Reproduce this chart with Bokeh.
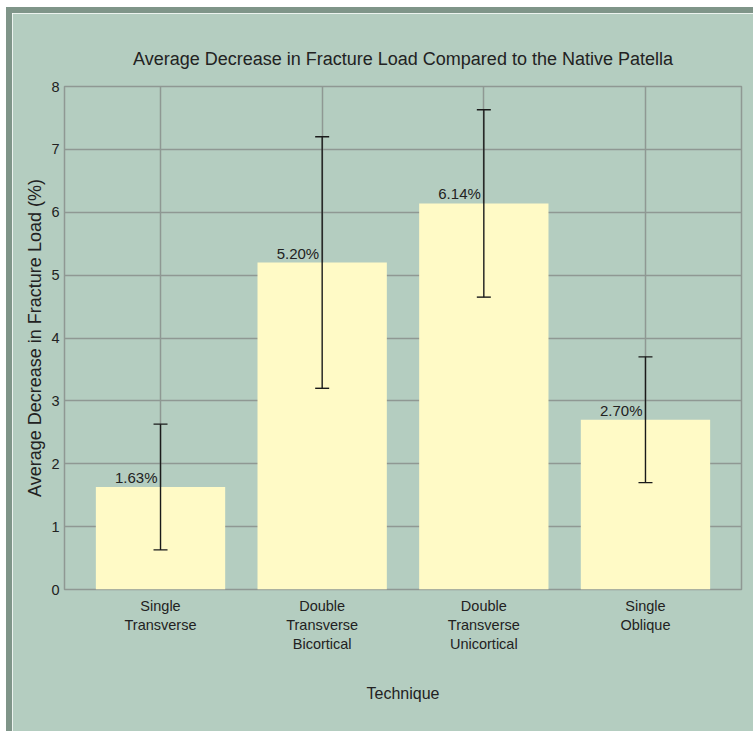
from bokeh.plotting import figure
from bokeh.models import ColumnDataSource, Whisker, LabelSet, FixedTicker, TeeHead
from bokeh.core.properties import value
from bokeh.embed import file_html
from bokeh.resources import INLINE

categories = ["Single\nTransverse", "Double\nTransverse\nBicortical",
              "Double\nTransverse\nUnicortical", "Single\nOblique"]
values = [1.63, 5.20, 6.14, 2.70]
err_lower = [0.63, 3.20, 4.65, 1.70]
err_upper = [2.63, 7.20, 7.63, 3.70]
value_labels = ["1.63%", "5.20%", "6.14%", "2.70%"]
y_ticks = [0, 1, 2, 3, 4, 5, 6, 7, 8]

BG = "#b4cdc0"
BAR = "#fffac6"
GRID = "#8f9893"
EDGE = "#7f9589"
FONT = "Liberation Sans"
TXT = "#222222"

xs = list(range(1, len(categories) + 1))
src = ColumnDataSource(dict(x=xs, value=values, lower=err_lower, upper=err_upper, label=value_labels))

p = figure(width=741, height=718, x_range=(0.406, 4.594), y_range=(0, 8),
           output_backend="svg", toolbar_location=None,
           min_border_left=52, min_border_right=12, min_border_top=73, min_border_bottom=142,
           background_fill_color=BG, border_fill_color=BG,
           title="Average Decrease in Fracture Load Compared to the Native Patella")
p.margin = (13, 0, 0, 12)
p.styles = {"box-shadow": f"-6px 0px 0px 0px {EDGE}, 0px -6px 0px 0px {EDGE}, -6px -6px 0px 0px {EDGE}"}

p.title.align = "center"
p.title.text_font = FONT
p.title.text_font_size = "18px"
p.title.text_font_style = "normal"
p.title.text_color = TXT
p.title.standoff = 35

p.vbar(x="x", top="value", width=0.8, source=src, fill_color=BAR, line_color=None)

w = Whisker(base="x", upper="upper", lower="lower", source=src, line_color="#1a1a1a", line_width=1.4,
            level="overlay",
            upper_head=TeeHead(size=14, line_color="#1a1a1a", line_width=1.4),
            lower_head=TeeHead(size=14, line_color="#1a1a1a", line_width=1.4))
p.add_layout(w)

labels = LabelSet(x="x", y="value", text="label", source=src, x_offset=-3, y_offset=1,
                  text_align="right", text_baseline="bottom", text_font=value(FONT),
                  text_font_size=value("15px"), text_color=TXT, level="overlay")
p.add_layout(labels)

p.xaxis.ticker = FixedTicker(ticks=xs)
p.xaxis.major_label_overrides = {i + 1: c for i, c in enumerate(categories)}
p.yaxis.ticker = FixedTicker(ticks=y_ticks)
p.xgrid.ticker = FixedTicker(ticks=xs)
p.ygrid.ticker = FixedTicker(ticks=y_ticks)

for ax in (p.xaxis, p.yaxis):
    ax.axis_line_color = None
    ax.major_tick_line_color = None
    ax.minor_tick_line_color = None
    ax.major_tick_out = 0
    ax.minor_tick_out = 0
    ax.major_label_text_font = FONT
    ax.major_label_text_font_size = "14.5px"
    ax.major_label_text_color = TXT
    ax.axis_label_text_font = FONT
    ax.axis_label_text_font_style = "normal"
    ax.axis_label_text_color = TXT

p.xaxis.axis_label = "Technique"
p.yaxis.axis_label = "Average Decrease in Fracture Load (%)"
p.xaxis.axis_label_text_font_size = "16px"
p.yaxis.axis_label_text_font_size = "18px"
p.xaxis.major_label_standoff = 8
p.yaxis.major_label_standoff = 5
p.xaxis.axis_label_standoff = 30
p.yaxis.axis_label_standoff = 3

p.grid.grid_line_color = GRID
p.grid.grid_line_width = 1.5
p.outline_line_color = GRID
p.outline_line_width = 1.5

open("out.html", "w").write(file_html(p, INLINE))
